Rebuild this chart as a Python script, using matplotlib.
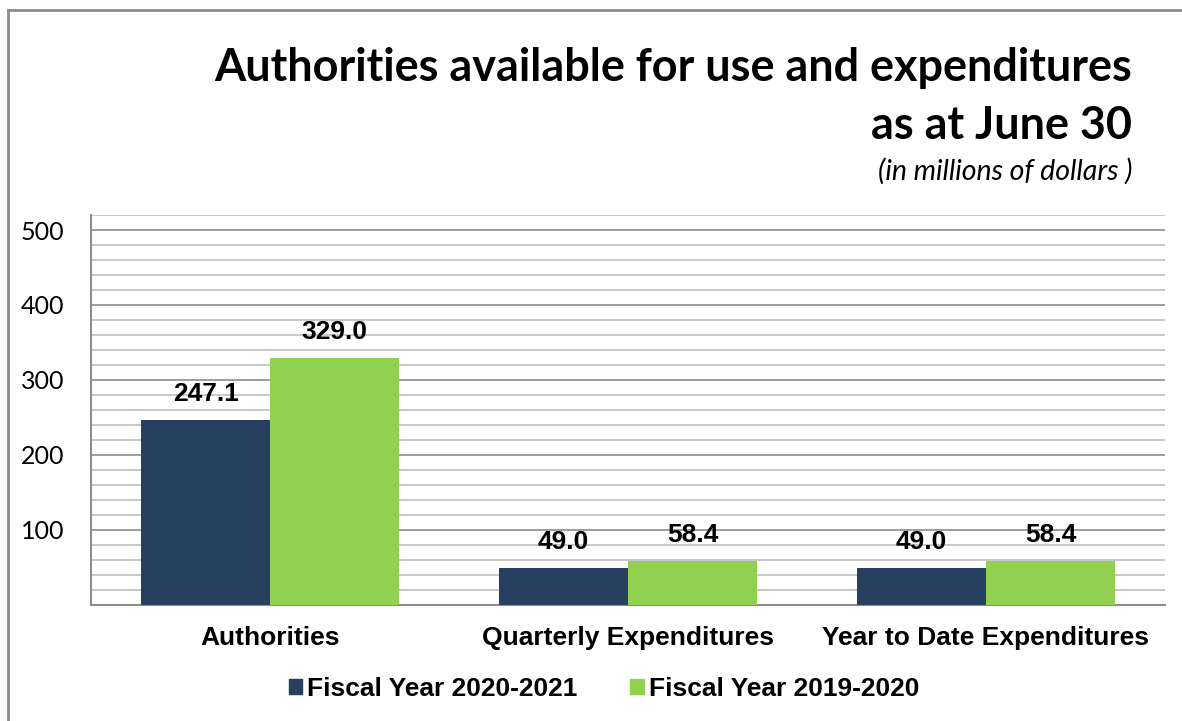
import numpy as np
import matplotlib.pyplot as plt
from matplotlib.patches import Patch
from matplotlib.lines import Line2D
from matplotlib.ticker import MultipleLocator

categories = ['Authorities', 'Quarterly Expenditures', 'Year to Date Expenditures']
fy_2021 = [247.1, 49.0, 49.0]
fy_2020 = [329.0, 58.4, 58.4]
series_names = ['Fiscal Year 2020-2021', 'Fiscal Year 2019-2020']

navy = '#27405f'
green = '#92d050'

fig = plt.figure(figsize=(11.82, 7.21), dpi=100)
ax = fig.add_axes([0.077, 0.1609, 0.9086, 0.5409])

x = np.arange(len(categories))
w = 0.36
b1 = ax.bar(x - w / 2, fy_2021, w, color=navy, zorder=3)
b2 = ax.bar(x + w / 2, fy_2020, w, color=green, zorder=3)

for bars in (b1, b2):
    for r in bars:
        ax.annotate('%.1f' % r.get_height(),
                    (r.get_x() + r.get_width() / 2, r.get_height()),
                    xytext=(0, 10), textcoords='offset points',
                    ha='center', va='bottom', fontsize=19,
                    fontweight='bold', family='Liberation Sans', zorder=4)

ax.set_xlim(-0.5, 2.5)
ax.set_ylim(0, 520)
ax.yaxis.set_major_locator(MultipleLocator(100))
ax.yaxis.set_minor_locator(MultipleLocator(20))
ax.set_yticks([100, 200, 300, 400, 500])
ax.grid(axis='y', which='minor', color='#bfbfbf', linewidth=1.2, zorder=0)
ax.grid(axis='y', which='major', color='#8c8c8c', linewidth=1.2, zorder=1)
ax.tick_params(axis='y', which='both', length=0, pad=19, labelsize=18)
for t in ax.get_yticklabels():
    t.set_family('Lato')
ax.set_xticks(x)
ax.set_xticklabels(categories, fontsize=19, fontweight='bold', family='Liberation Sans')
ax.tick_params(axis='x', length=0, pad=15)

for s in ('top', 'right'):
    ax.spines[s].set_visible(False)
for s in ('left', 'bottom'):
    ax.spines[s].set_color('#8c8c8c')
    ax.spines[s].set_linewidth(1.5)

fig.text(0.958, 0.887, 'Authorities available for use and expenditures',
         ha='right', va='baseline', fontsize=32.4, fontweight='bold', family='Lato')
fig.text(0.958, 0.807, 'as at June 30',
         ha='right', va='baseline', fontsize=32.4, fontweight='bold', family='Lato')
fig.text(0.958, 0.75, '(in millions of dollars )',
         ha='right', va='baseline', fontsize=20.5, style='italic', family='Lato')

handles = [Patch(color=navy), Patch(color=green)]
fig.legend(handles, series_names, loc='center', bbox_to_anchor=(0.511, 0.044),
           ncol=2, frameon=False, handlelength=0.5, handleheight=0.5,
           handletextpad=0.2, columnspacing=2.0,
           prop={'family': 'Liberation Sans', 'weight': 'bold', 'size': 19})

# border round the chart area
fig.add_artist(Line2D([0.0068, 0.0068], [0, 0.986], transform=fig.transFigure,
                      color='#8c8c8c', linewidth=2))
fig.add_artist(Line2D([0.0068, 1], [0.986, 0.986], transform=fig.transFigure,
                      color='#8c8c8c', linewidth=2))

fig.savefig('out.png', dpi=100)
